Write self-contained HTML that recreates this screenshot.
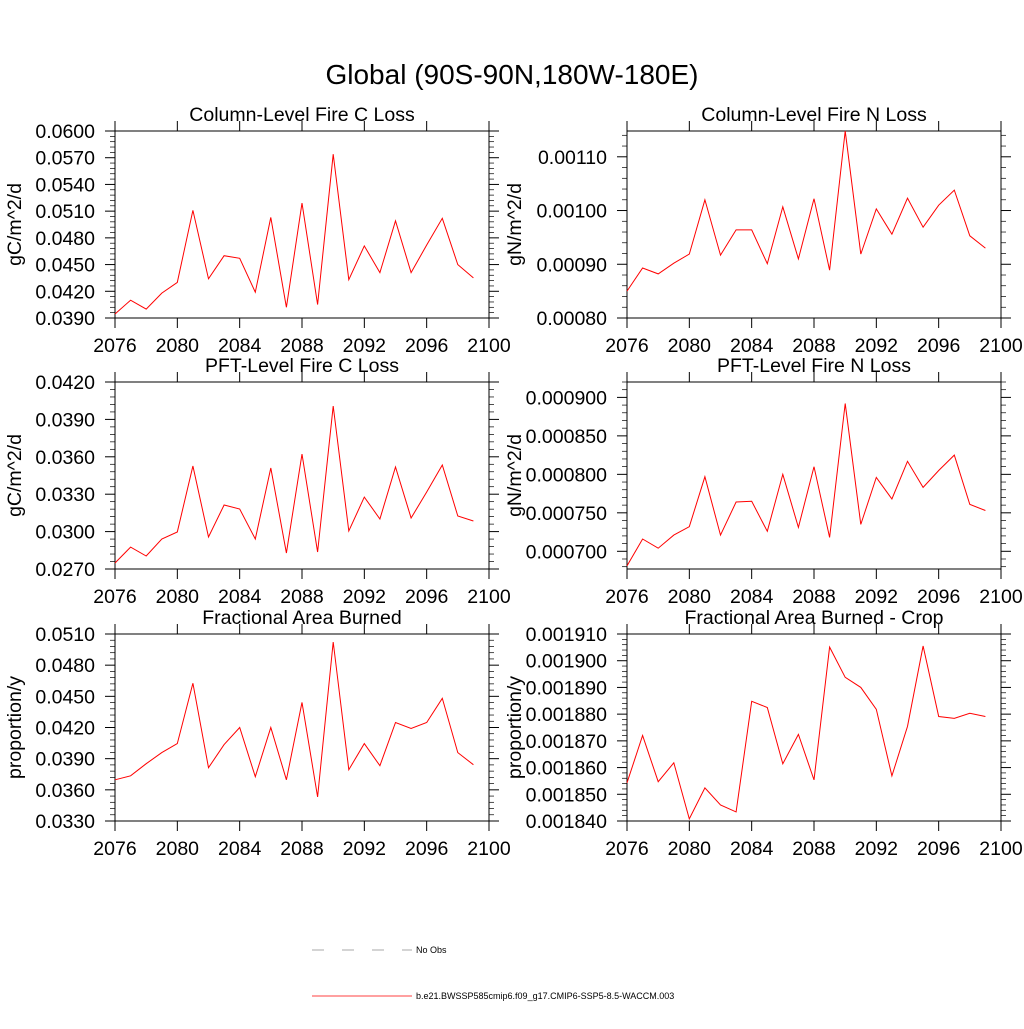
<!DOCTYPE html>
<html><head><meta charset="utf-8"><style>
body{margin:0;background:#fff}
svg{font-family:"Liberation Sans",sans-serif}
</style></head><body>
<svg id="c" width="1024" height="1024" viewBox="0 0 1024 1024">
<text x="512" y="84" font-size="28" text-anchor="middle">Global (90S-90N,180W-180E)</text>
<g id="legend">
<line x1="312" y1="950" x2="412" y2="950" stroke="#555" stroke-width="0.6" stroke-dasharray="12,18"/>
<text x="416" y="953" font-size="9">No Obs</text>
<line x1="312" y1="996" x2="412" y2="996" stroke="#f00" stroke-width="0.7"/>
<text x="416" y="999" font-size="9">b.e21.BWSSP585cmip6.f09_g17.CMIP6-SSP5-8.5-WACCM.003</text>
</g>
</svg>
<script>
const years=[2076,2077,2078,2079,2080,2081,2082,2083,2084,2085,2086,2087,2088,2089,2090,2091,2092,2093,2094,2095,2096,2097,2098,2099];
const xTicks=[2076,2080,2084,2088,2092,2096,2100];
const colC=[0.03945,0.0410,0.0400,0.0418,0.0430,0.0511,0.0434,0.0460,0.0457,0.0419,0.0503,0.0402,0.0519,0.0405,0.0574,0.0433,0.0471,0.0441,0.0499,0.0441,0.0472,0.0502,0.0450,0.0435];
const colN=[0.000850,0.000893,0.000882,0.000902,0.000919,0.001020,0.000917,0.000964,0.000964,0.000901,0.001007,0.000910,0.001022,0.000889,0.001148,0.000919,0.001003,0.000956,0.001023,0.000969,0.001010,0.001038,0.000953,0.000930];
const pftC=[0.02748,0.02876,0.02804,0.02941,0.02997,0.03526,0.02957,0.03213,0.03181,0.02941,0.0351,0.02828,0.03622,0.02836,0.04007,0.03005,0.03277,0.03101,0.03518,0.03109,0.03318,0.03534,0.03125,0.03085];
const pftN=[0.000681,0.000716,0.000704,0.000721,0.000732,0.000797,0.000721,0.000764,0.000765,0.000726,0.000800,0.000731,0.000810,0.000718,0.000892,0.000735,0.000796,0.000768,0.000817,0.000783,0.000805,0.000825,0.000761,0.000753];
const fab=[0.03697,0.03735,0.03852,0.03958,0.04045,0.04626,0.03813,0.04035,0.0420,0.03726,0.0420,0.03697,0.04442,0.03532,0.05023,0.03794,0.04045,0.03832,0.04248,0.0419,0.04248,0.04481,0.03958,0.03842];
const fabCrop=[0.0018543,0.0018720,0.0018547,0.0018618,0.0018408,0.0018524,0.0018460,0.0018434,0.0018848,0.0018825,0.0018614,0.0018724,0.0018554,0.0019051,0.0018938,0.0018900,0.0018818,0.0018569,0.0018754,0.0019055,0.0018791,0.0018784,0.0018803,0.0018791];
const ticksColC=[0.039,0.042,0.045,0.048,0.051,0.054,0.057,0.060];
const ticksColN=[0.0008,0.0009,0.0010,0.0011];
const ticksPftC=[0.027,0.030,0.033,0.036,0.039,0.042];
const ticksPftN=[0.0007,0.00075,0.0008,0.00085,0.0009];
const ticksFab=[0.033,0.036,0.039,0.042,0.045,0.048,0.051];
const ticksCrop=[0.00184,0.00185,0.00186,0.00187,0.00188,0.00189,0.0019,0.00191];
const NS="http://www.w3.org/2000/svg";
const svg=document.getElementById('c');
function mk(t,a,p){const e=document.createElementNS(NS,t);for(const k in a)e.setAttribute(k,a[k]);p.appendChild(e);return e;}
const panels=[
{t:"Column-Level Fire C Loss",u:"gC/m^2/d",d:colC,tk:ticksColC,lo:0.039,hi:0.060,dec:4,minor:5,x:115,y:131,n:"col-c",yo:94},
{t:"Column-Level Fire N Loss",u:"gN/m^2/d",d:colN,tk:ticksColN,lo:0.0008,hi:0.001148,dec:5,minor:5,x:627,y:131,n:"col-n",yo:106},
{t:"PFT-Level Fire C Loss",u:"gC/m^2/d",d:pftC,tk:ticksPftC,lo:0.027,hi:0.042,dec:4,minor:5,x:115,y:382,n:"pft-c",yo:94},
{t:"PFT-Level Fire N Loss",u:"gN/m^2/d",d:pftN,tk:ticksPftN,lo:0.000677,hi:0.00092,dec:6,minor:5,x:627,y:382,n:"pft-n",yo:106},
{t:"Fractional Area Burned",u:"proportion/y",d:fab,tk:ticksFab,lo:0.033,hi:0.051,dec:4,minor:5,x:115,y:634,n:"frac-area",yo:94},
{t:"Fractional Area Burned - Crop",u:"proportion/y",d:fabCrop,tk:ticksCrop,lo:0.00184,hi:0.00191,dec:6,minor:5,x:627,y:634,n:"frac-area-crop",yo:106}];
const W=374,H=187,FS=19.5;
panels.forEach(p=>{
 const g=mk('g',{},svg);
 
 
 const sx=v=>p.x+(v-2076)/24*W;
 const sy=v=>p.y+H-(v-p.lo)/(p.hi-p.lo)*H;
 const box=mk('rect',{x:p.x,y:p.y,width:W,height:H,fill:'none',stroke:'#000','stroke-width':1},g);
 
 
 const tt=mk('text',{x:p.x+W/2,y:p.y-10,'font-size':FS,'text-anchor':'middle'},g);tt.textContent=p.t;
 
 
 const yl=mk('text',{x:0,y:0,'font-size':FS,'text-anchor':'middle',transform:`translate(${p.x-p.yo},${p.y+H/2}) rotate(-90)`},g);yl.textContent=p.u;
 
 
 xTicks.forEach(v=>{const X=sx(v);
  mk('line',{x1:X,x2:X,y1:p.y+H,y2:p.y+H+10,stroke:'#000'},g);
  mk('line',{x1:X,x2:X,y1:p.y,y2:p.y-10,stroke:'#000'},g);
  const t=mk('text',{x:X,y:p.y+H+34,'font-size':FS,'text-anchor':'middle'},g);t.textContent=v;
  
  });
 const step=p.tk[1]-p.tk[0];
 const minorAt=Y=>{mk('line',{x1:p.x,x2:p.x-5,y1:Y,y2:Y,stroke:'#000','stroke-width':0.7},g);mk('line',{x1:p.x+W,x2:p.x+W+5,y1:Y,y2:Y,stroke:'#000','stroke-width':0.7},g);};
 for(let i=0;i<p.tk.length;i++){const v=p.tk[i];
  for(let m=1;m<p.minor&&i>0;m++){const Y=sy(v-step*m/p.minor);if(Y<p.y||Y>p.y+H)continue;minorAt(Y);}
  const Y=sy(v);
  mk('line',{x1:p.x,x2:p.x-10,y1:Y,y2:Y,stroke:'#000'},g);mk('line',{x1:p.x+W,x2:p.x+W+10,y1:Y,y2:Y,stroke:'#000'},g);
  const t=mk('text',{x:p.x-20,y:Y+7,'font-size':FS,'text-anchor':'end'},g);t.textContent=v.toFixed(p.dec);
  
  }
 const top=p.tk[p.tk.length-1];
 for(let m=1;m<p.minor;m++){const Y=sy(top+step*m/p.minor);if(Y<p.y)break;minorAt(Y);}
 const bot=p.tk[0];
 for(let m=1;m<p.minor;m++){const Y=sy(bot-step*m/p.minor);if(Y>p.y+H)break;minorAt(Y);}
 const pts=p.d.map((v,i)=>sx(years[i]).toFixed(1)+','+sy(v).toFixed(1)).join(' ');
 const pl=mk('polyline',{points:pts,fill:'none',stroke:'#f00','stroke-width':1},g);
 
 
});
</script>
</body></html>
